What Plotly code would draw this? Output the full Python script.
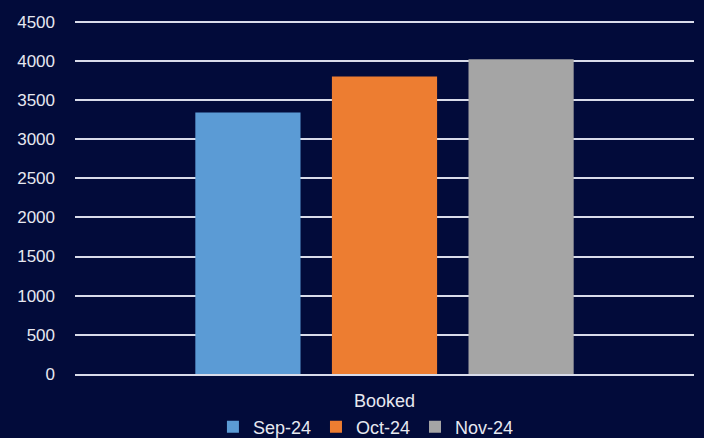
import plotly.graph_objects as go

categories = ["Booked"]
series_names = ["Sep-24", "Oct-24", "Nov-24"]
series_values = [[3340], [3800], [4020]]
colors = ["#5B9BD5", "#ED7D31", "#A5A5A5"]
tick_vals = [0, 500, 1000, 1500, 2000, 2500, 3000, 3500, 4000, 4500]

fig = go.Figure()
for name, vals, c in zip(series_names, series_values, colors):
    fig.add_trace(go.Bar(x=categories, y=vals, name=name, marker=dict(color=c, line=dict(width=0))))

bg = "#020B3A"
fig.update_layout(
    width=704, height=438,
    paper_bgcolor=bg, plot_bgcolor=bg,
    margin=dict(l=75, r=10, t=20, b=64, autoexpand=False),
    barmode="group", bargap=0.338, bargroupgap=0.23,
    font=dict(family="Liberation Sans", size=17, color="#E6E8F0"),
    showlegend=True,
    legend=dict(orientation="h", x=0.47, xanchor="center", yref="container", y=0.025, yanchor="middle",
                font=dict(size=18, color="#E6E8F0"), itemwidth=30, traceorder="normal",
                tracegroupgap=0, bgcolor="rgba(0,0,0,0)"),
    xaxis=dict(showgrid=False, showline=True, linecolor="#D9DCEA", linewidth=1.5,
               tickfont=dict(size=18), ticks="", ticklabelstandoff=10),
    yaxis=dict(range=[0, 4520], tickvals=tick_vals, showgrid=True, gridcolor="#D9DCEA",
               gridwidth=1.5, zeroline=False, showline=False, ticks="",
               ticklabelstandoff=19, tickfont=dict(size=17)),
)
fig.write_html("out.html", config={"displayModeBar": False},
               post_script="document.body.style.margin='0px';")
